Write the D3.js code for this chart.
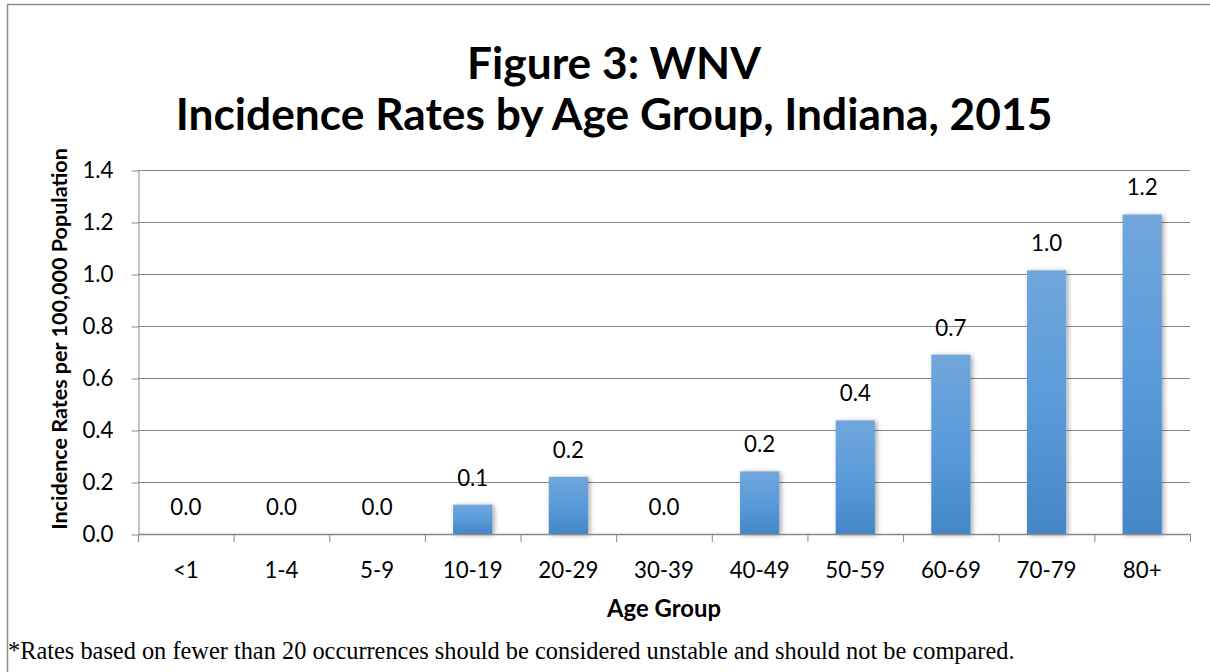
<!DOCTYPE html>
<html><head><meta charset="utf-8">
<script src="https://cdn.jsdelivr.net/npm/d3@7"></script>
<style>html,body{margin:0;padding:0;background:#fff;}svg{display:block;}</style>
</head><body>
<svg id="c" width="1210" height="672"></svg>
<script>
const categories = ["<1","1-4","5-9","10-19","20-29","30-39","40-49","50-59","60-69","70-79","80+"];
const rates = [0, 0, 0, 0.113, 0.22, 0, 0.241, 0.437, 0.69, 1.014, 1.229];
const yTicks = [0, 0.2, 0.4, 0.6, 0.8, 1.0, 1.2, 1.4];
const titleLines = ["Figure 3: WNV", "Incidence Rates by Age Group, Indiana, 2015"];
const xTitle = "Age Group";
const yTitle = "Incidence Rates per 100,000 Population";
const footnote = "*Rates based on fewer than 20 occurrences should be considered unstable and should not be compared.";

const svg = d3.select("#c");
const F = "Lato, 'Open Sans', sans-serif";
const SERIF = "'Liberation Serif', 'Times New Roman', serif";
const grid = "#898989";
const L = 138, R = 1190, T = 170, B = 534;

// font size such that a sample text reaches a target width
function fitSize(text, family, weight, target) {
  const t = svg.append("text").attr("font-family", family).attr("font-weight", weight).attr("font-size", 100).text(text);
  const w = t.node().getComputedTextLength();
  t.remove();
  return 100 * target / w;
}
const fsTick = fitSize("30-39", F, "normal", 60);
const fsTitle = fitSize(titleLines[1], F, "bold", 877);
const fsXTitle = fitSize(xTitle, F, "bold", 114);
const fsYTitle = fitSize(yTitle, F, "bold", 382);
const fsFoot = fitSize(footnote, SERIF, "normal", 1007);

// outer frame
svg.append("path").attr("d", "M7.5,672 V4.5 H1210").attr("fill","none").attr("stroke","#8c8c8c").attr("stroke-width",1.5);

const defs = svg.append("defs");
const grad = defs.append("linearGradient").attr("id","bg").attr("x1",0).attr("y1",0).attr("x2",0).attr("y2",1);
grad.append("stop").attr("offset","0%").attr("stop-color","#72a6db");
grad.append("stop").attr("offset","50%").attr("stop-color","#5a9bdb");
grad.append("stop").attr("offset","100%").attr("stop-color","#4487c6");
const f = defs.append("filter").attr("id","sh").attr("x","-30%").attr("y","-10%").attr("width","160%").attr("height","130%");
f.append("feDropShadow").attr("dx",2).attr("dy",1).attr("stdDeviation",2.5).attr("flood-color","#000").attr("flood-opacity",0.35);

const x = d3.scaleBand().domain(categories).range([L, R]).paddingInner(0.59).paddingOuter(0.295);
const y = d3.scaleLinear().domain([0, 1.4]).range([B, T]);
const step = x.step();

// gridlines
svg.append("g").selectAll("line").data(yTicks.filter(d => d > 0)).join("line")
  .attr("x1", L).attr("x2", R).attr("y1", d => y(d)+0.5).attr("y2", d => y(d)+0.5)
  .attr("stroke", grid).attr("stroke-width", 1);

// y axis
const ya = svg.append("g").attr("transform", `translate(${L+0.5},0)`)
  .call(d3.axisLeft(y).tickValues(yTicks).tickFormat(d3.format(".1f")).tickSize(7).tickSizeOuter(0));
ya.select(".domain").attr("stroke", grid);
ya.selectAll(".tick line").attr("stroke", grid).attr("transform","translate(0,0.5)");
ya.selectAll(".tick text").attr("font-family", F).attr("font-size", fsTick).attr("fill","#000").attr("x", -25);

// bars
svg.append("g").selectAll("rect").data(rates.map((v,i)=>({c:categories[i], v}))).join("rect")
  .filter(d => d.v > 0)
  .attr("x", d => x(d.c)).attr("width", x.bandwidth())
  .attr("y", d => y(d.v)).attr("height", d => B - y(d.v))
  .attr("fill", "url(#bg)").attr("filter","url(#sh)");

// x axis baseline and ticks
svg.append("line").attr("x1", L).attr("x2", R).attr("y1", B+0.5).attr("y2", B+0.5).attr("stroke", grid).attr("stroke-width",1.5);
svg.append("g").selectAll("line").data(d3.range(categories.length+1)).join("line")
  .attr("x1", i => L + i*step + 0.5).attr("x2", i => L + i*step + 0.5)
  .attr("y1", B).attr("y2", B+8).attr("stroke", grid);
svg.append("g").selectAll("text").data(categories).join("text")
  .attr("x", d => x(d) + x.bandwidth()/2).attr("y", 578)
  .attr("text-anchor","middle").attr("font-family", F).attr("font-size", fsTick).text(d => d);

// data labels
svg.append("g").selectAll("text").data(rates.map((v,i)=>({c:categories[i], v}))).join("text")
  .attr("x", d => x(d.c) + x.bandwidth()/2).attr("y", d => y(d.v) - 19)
  .attr("text-anchor","middle").attr("font-family", F).attr("font-size", fsTick).text(d => d3.format(".1f")(d.v));

// titles
svg.append("g").selectAll("text").data(titleLines).join("text")
  .attr("x", 614).attr("y", (d,i) => 79 + i*51)
  .attr("text-anchor","middle").attr("font-family", F).attr("font-weight","bold").attr("font-size", fsTitle).text(d => d);

svg.append("text").attr("x", (L+R)/2).attr("y", 617).attr("text-anchor","middle")
  .attr("font-family", F).attr("font-weight","bold").attr("font-size", fsXTitle).text(xTitle);
svg.append("text").attr("transform", "translate(67,339) rotate(-90)").attr("text-anchor","middle")
  .attr("font-family", F).attr("font-weight","bold").attr("font-size", fsYTitle).text(yTitle);

svg.append("text").attr("x", 8).attr("y", 659).attr("font-family", SERIF)
  .attr("font-size", fsFoot).text(footnote);
</script>
</body></html>
